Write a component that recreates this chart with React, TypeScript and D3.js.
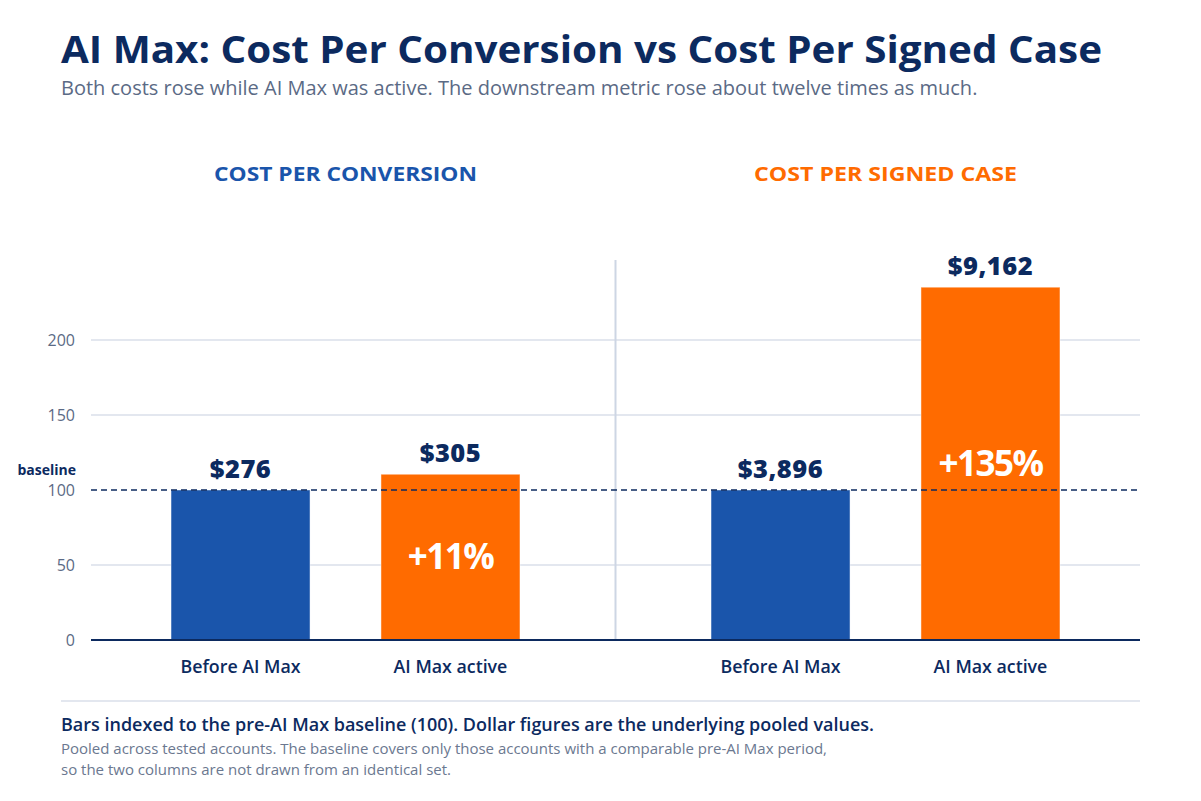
import * as d3 from "d3";

const width = 1201;
const height = 801;
const marginLeft = 91;
const marginRight = 61;
const plotTop = 260;
const plotBottom = 640;

const panels = ["COST PER CONVERSION", "COST PER SIGNED CASE"];
const panelColors = ["#1a55ab", "#ff6b00"];
const periods = ["Before AI Max", "AI Max active"];
const dollars = [
  [276, 305],
  [3896, 9162],
];
const indexed = [
  [100, 110.5],
  [100, 235.2],
];
const changes = ["+11%", "+135%"];
const yTicks = [0, 50, 100, 150, 200];

const navy = "#0c2a5f";
const blue = "#1a55ab";
const orange = "#ff6b00";
const heading = "'Open Sans', 'Noto Sans', sans-serif";

const fmt = d3.format("$,");

const App = () => {
  const y = d3.scaleLinear().domain([0, 200]).range([plotBottom, 340]);

  const px = d3
    .scaleBand<string>()
    .domain(panels)
    .range([75.5, 1155.5]);

  const bx = d3
    .scaleBand<string>()
    .domain(periods)
    .range([0, px.bandwidth()])
    .paddingInner(0.338)
    .paddingOuter(0.455);

  const sepX = px(panels[1]) as number;

  return (
    <svg
      width={width}
      height={height}
      viewBox={`0 0 ${width} ${height}`}
      style={{ display: "block", margin: "-8px", background: "#fff" }}
    >
      <text
        x={61}
        y={63}
        fontFamily={heading}
        fontWeight={700}
        fontSize={38}
        fill={navy}
        textLength={1041}
        lengthAdjust="spacingAndGlyphs"
      >
        AI Max: Cost Per Conversion vs Cost Per Signed Case
      </text>
      <text x={61} y={95} fontFamily={heading} fontSize={20} fill="#5b6a85">
        Both costs rose while AI Max was active. The downstream metric rose about twelve times as much.
      </text>

      {/* gridlines */}
      {yTicks.map((t) => (
        <g key={t}>
          {t !== 0 && t !== 100 && (
            <line
              x1={marginLeft}
              x2={width - marginRight}
              y1={y(t)}
              y2={y(t)}
              stroke="#e3e7ef"
              strokeWidth={2}
            />
          )}
          <text
            x={75}
            y={y(t)}
            dy="0.35em"
            textAnchor="end"
            fontFamily={heading}
            fontSize={16}
            fill="#5b6a85"
          >
            {t}
          </text>
        </g>
      ))}

      <line
        x1={sepX}
        x2={sepX}
        y1={plotTop}
        y2={plotBottom}
        stroke="#cdd6e4"
        strokeWidth={2}
      />

      {panels.map((p, i) => {
        const x0 = px(p) as number;
        return (
          <g key={p} transform={`translate(${x0},0)`}>
            <text
              x={px.bandwidth() / 2}
              y={181}
              textAnchor="middle"
              fontFamily={heading}
              fontWeight={700}
              fontSize={20}
              fill={panelColors[i]}
              textLength={263}
              lengthAdjust="spacingAndGlyphs"
            >
              {p}
            </text>
            {periods.map((per, j) => {
              const bxj = bx(per) as number;
              const cx = bxj + bx.bandwidth() / 2;
              const top = y(indexed[i][j]);
              return (
                <g key={per}>
                  <rect
                    x={bxj}
                    y={top}
                    width={bx.bandwidth()}
                    height={plotBottom - top}
                    fill={j === 0 ? blue : orange}
                    stroke="#ffffff"
                    strokeOpacity={0.45}
                    strokeWidth={1}
                  />
                  <text
                    x={cx}
                    y={top - 12}
                    textAnchor="middle"
                    fontFamily={heading}
                    fontWeight={800}
                    fontSize={25.5}
                    fill={navy}
                    letterSpacing={0.5}
                  >
                    {fmt(dollars[i][j])}
                  </text>
                  {j === 1 && (
                    <text
                      x={cx}
                      y={(top + plotBottom) / 2}
                      dy="0.35em"
                      textAnchor="middle"
                      fontFamily={heading}
                      fontWeight={700}
                      fontSize={35}
                      fill="#ffffff"
                      letterSpacing={-1.5}
                    >
                      {changes[i]}
                    </text>
                  )}
                  <text
                    x={cx}
                    y={673}
                    textAnchor="middle"
                    fontFamily={heading}
                    fontWeight={600}
                    fontSize={17.8}
                    fill={navy}
                  >
                    {per}
                  </text>
                </g>
              );
            })}
          </g>
        );
      })}

      {/* baseline */}
      <line
        x1={marginLeft}
        x2={width - marginRight}
        y1={y(100)}
        y2={y(100)}
        stroke={navy}
        strokeWidth={1.6}
        strokeDasharray="6,4"
      />
      <text
        x={76}
        y={y(100) - 15}
        textAnchor="end"
        fontFamily={heading}
        fontWeight={700}
        fontSize={14}
        fill={navy}
      >
        baseline
      </text>

      <line
        x1={marginLeft}
        x2={width - marginRight}
        y1={y(0)}
        y2={y(0)}
        stroke={navy}
        strokeWidth={2}
      />

      {/* footer */}
      <line x1={61} x2={1140} y1={701} y2={701} stroke="#e3e7ef" strokeWidth={2} />
      <text
        x={61}
        y={731}
        fontFamily={heading}
        fontWeight={600}
        fontSize={17.5}
        fill={navy}
        textLength={813}
        lengthAdjust="spacingAndGlyphs"
      >
        Bars indexed to the pre-AI Max baseline (100). Dollar figures are the underlying pooled values.
      </text>
      <text
        x={61}
        y={754}
        fontFamily={heading}
        fontSize={14.5}
        fill="#6b7890"
        textLength={766}
        lengthAdjust="spacingAndGlyphs"
      >
        Pooled across tested accounts. The baseline covers only those accounts with a comparable pre-AI Max period,
      </text>
      <text
        x={61}
        y={775}
        fontFamily={heading}
        fontSize={14.8}
        fill="#6b7890"
        textLength={390}
        lengthAdjust="spacingAndGlyphs"
      >
        so the two columns are not drawn from an identical set.
      </text>
    </svg>
  );
};

export default App;
